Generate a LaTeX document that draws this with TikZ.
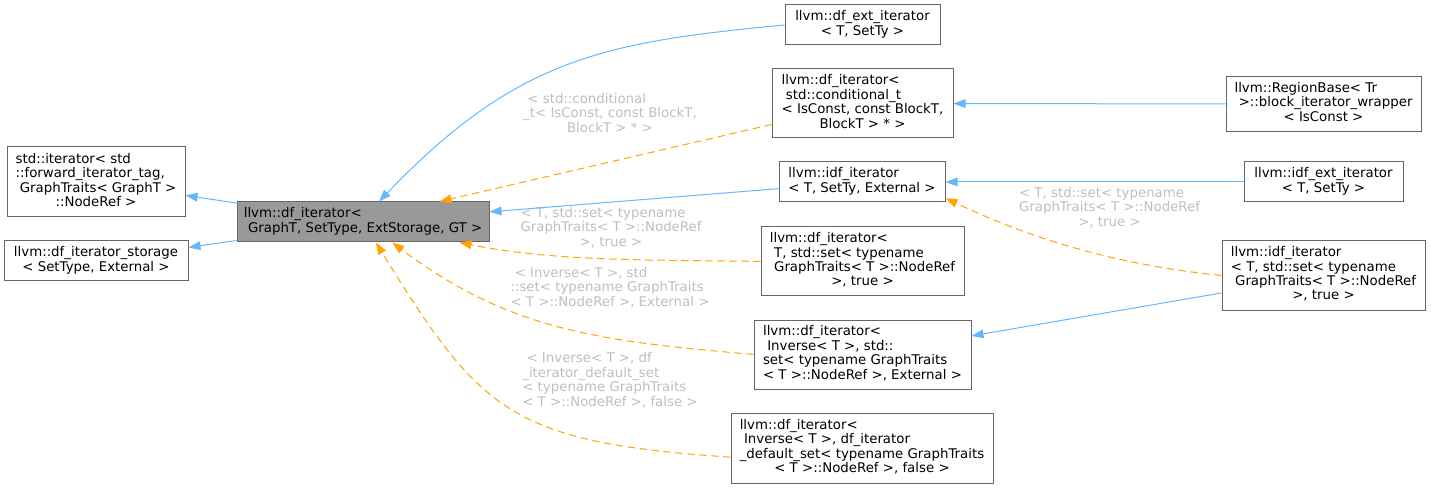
\documentclass[tikz,border=0pt]{standalone}
\usepackage{fontspec}
\setmainfont{DejaVu Sans}
\usetikzlibrary{arrows.meta}

\newlength{\ppx}\setlength{\ppx}{0.75pt}
\definecolor{edgeblue}{HTML}{63B8FF}
\definecolor{edgeorange}{HTML}{FFA500}
\definecolor{lblgray}{HTML}{BEBEBE}
\definecolor{boxline}{HTML}{666666}
\definecolor{mainfill}{HTML}{999999}
% lines left, last line centred
\newcommand{\dlines}[2]{\begin{tabular}{@{}l@{}}#1\\\multicolumn{1}{@{}c@{}}{#2}\end{tabular}}

\begin{document}
\begin{tikzpicture}[
  x=\ppx, y=\ppx,
  font=\fontsize{10pt}{10.7pt}\selectfont,
  cls/.style={draw=boxline, line width=0.75pt, inner sep=0pt, fill=white},
  curcls/.style={cls, fill=mainfill},
  inh/.style={-{Triangle[length=9pt,width=6.5pt]}, draw=edgeblue, line width=0.75pt},
  tmpl/.style={-{Triangle[length=9pt,width=6.5pt]}, draw=edgeorange, line width=0.75pt, dash pattern=on 5.5pt off 3.5pt},
  elbl/.style={text=lblgray, inner sep=0pt}
]
\useasboundingbox (0,0) rectangle (1431,-488);

\node[curcls, minimum width=252\ppx, minimum height=40\ppx] (dfit) at (363,-222) {\dlines{llvm::df\_iterator<}{\ GraphT, SetType, ExtStorage, GT >}};
\node[cls, minimum width=178\ppx, minimum height=70\ppx] (stditer) at (96,-182) {\dlines{std::iterator< std\\::forward\_iterator\_tag,\\\ GraphTraits< GraphT >}{::NodeRef >}};
\node[cls, minimum width=184\ppx, minimum height=40\ppx] (dfstorage) at (96,-261) {\dlines{llvm::df\_iterator\_storage}{< SetType, External >}};

\node[cls, minimum width=155\ppx, minimum height=40\ppx] (dfext) at (862.5,-25) {\dlines{llvm::df\_ext\_iterator}{< T, SetTy >}};
\node[cls, minimum width=181\ppx, minimum height=69\ppx] (dfcond) at (862.5,-103.5) {\dlines{llvm::df\_iterator<\\\ std::conditional\_t\\< IsConst, const BlockT,}{BlockT > * >}};
\node[cls, minimum width=166\ppx, minimum height=40\ppx] (idfit) at (862,-182) {\dlines{llvm::idf\_iterator}{< T, SetTy, External >}};
\node[cls, minimum width=203\ppx, minimum height=69\ppx] (dfset) at (862.5,-261.5) {\dlines{llvm::df\_iterator<\\\ T, std::set< typename\\\ GraphTraits< T >::NodeRef}{>, true >}};
\node[cls, minimum width=217\ppx, minimum height=69\ppx] (dfinv) at (862.5,-354.5) {\dlines{llvm::df\_iterator<\\\ Inverse< T >, std::\\set< typename GraphTraits}{< T >::NodeRef >, External >}};
\node[cls, minimum width=262\ppx, minimum height=70\ppx] (dfdefset) at (862,-448) {\dlines{llvm::df\_iterator<\\\ Inverse< T >, df\_iterator\\\_default\_set< typename GraphTraits}{< T >::NodeRef >, false >}};

\node[cls, minimum width=195\ppx, minimum height=55\ppx] (regionblk) at (1323.5,-104) {\dlines{llvm::RegionBase< Tr\\\ >::block\_iterator\_wrapper}{< IsConst >}};
\node[cls, minimum width=159\ppx, minimum height=40\ppx] (idfext) at (1323.5,-182) {\dlines{llvm::idf\_ext\_iterator}{< T, SetTy >}};
\node[cls, minimum width=203\ppx, minimum height=69\ppx] (idfset) at (1323.5,-275.5) {\dlines{llvm::idf\_iterator\\< T, std::set< typename\\\ GraphTraits< T >::NodeRef}{>, true >}};

% edge labels
\node[elbl] (lblcond) at (610,-115) {\dlines{\ < std::conditional\\\_t< IsConst, const BlockT,}{BlockT > * >}};
\node[elbl] (lbldfset) at (611,-229) {\dlines{< T, std::set< typename\\GraphTraits< T >::NodeRef}{>, true >}};
\node[elbl] (lbldfinv) at (610,-289) {\dlines{\ < Inverse< T >, std\\::set< typename GraphTraits}{< T >::NodeRef >, External >}};
\node[elbl] (lbldfdef) at (610,-381.5) {\dlines{\ < Inverse< T >, df\\\_iterator\_default\_set\\< typename GraphTraits}{< T >::NodeRef >, false >}};
\node[elbl] (lblidfset) at (1109.5,-209) {\dlines{< T, std::set< typename\\GraphTraits< T >::NodeRef}{>, true >}};

\draw[inh] (dfit) -- (stditer);
\draw[inh] (dfit) -- (dfstorage);
\draw[inh] (dfext.west) .. controls +(-179,-17) and +(138,144) .. (dfit.52);
\draw[tmpl] (dfcond.-167) -- (dfit.15);
\draw[inh] (idfit) -- (dfit);
\draw[tmpl] (dfset.west) .. controls +(-100,2) and +(100,-20) .. (dfit.-12);
\draw[tmpl] (dfinv.west) .. controls +(-150,13.5) and +(120,-90) .. (dfit.-35);
\draw[tmpl] (dfdefset.184) .. controls +(-220,15) and +(105,-170) .. (dfit.-58);
\draw[inh] (regionblk) -- (dfcond);
\draw[inh] (idfext) -- (idfit);
\draw[tmpl] (idfset.west) .. controls +(-119,12) and +(72,-34) .. (idfit.-11);
\draw[inh] (idfset) -- (dfinv);
\end{tikzpicture}
\end{document}
